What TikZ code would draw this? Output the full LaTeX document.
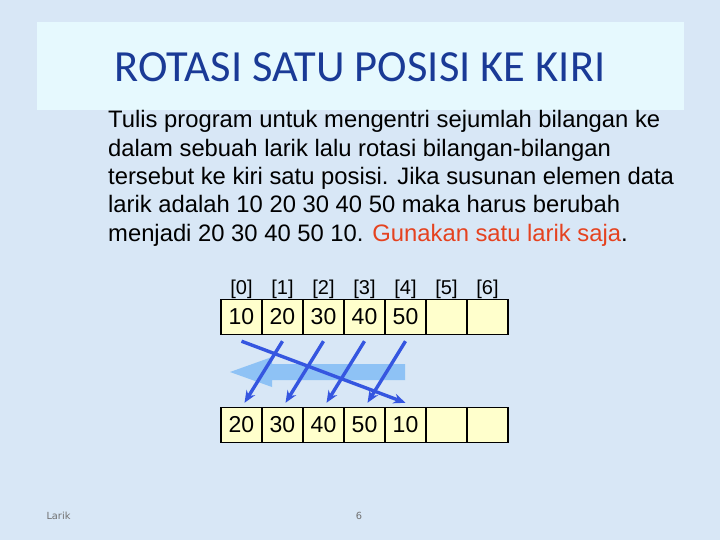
\documentclass[tikz,border=0pt]{standalone}
\usepackage{fontspec}
\setmainfont{Liberation Sans}
\newfontfamily\titlefont{Carlito}
\newfontfamily\footfont{DejaVu Sans}
\usetikzlibrary{arrows.meta}
\definecolor{bgblue}{HTML}{D8E7F6}
\definecolor{titlebox}{HTML}{E6F9FE}
\definecolor{titleblue}{HTML}{1A3A96}
\definecolor{cellyellow}{HTML}{FFFFCC}
\definecolor{linkblue}{HTML}{3556E0}
\definecolor{shiftblue}{HTML}{8EC2F5}
\definecolor{notered}{HTML}{E5421F}
\definecolor{footgray}{HTML}{707070}

\begin{document}
\begin{tikzpicture}[x=1pt,y=-1pt,
  cell/.style={draw,fill=cellyellow,line width=1.4pt,minimum width=41pt,minimum height=35pt,inner sep=0pt,font=\fontsize{23}{23}\selectfont},
  index/.style={inner sep=0pt,font=\fontsize{20}{20}\selectfont},
  link/.style={draw=linkblue,line width=3.4pt,-{Stealth[length=12pt,width=10pt]}}]

  % slide background
  \fill[bgblue] (0,0) rectangle (720,540);
  \node[fill=titlebox,minimum width=647pt,minimum height=88pt,inner sep=0pt] (titlebox) at (360.5,66){};
  \node[anchor=base,text=titleblue,font=\titlefont\fontsize{44.5}{44.5}\selectfont] (title) at (360,82){ROTASI SATU POSISI KE KIRI};

  \node[anchor=north west,inner sep=0pt,align=left,font=\fontsize{23.8}{28.3}\selectfont] (task) at (108,110.5){Tulis program untuk mengentri sejumlah bilangan ke\\
dalam sebuah larik lalu rotasi bilangan-bilangan\\
tersebut ke kiri satu posisi. Jika susunan elemen data\\
larik adalah 10 20 30 40 50 maka harus berubah\\
menjadi 20 30 40 50 10. \textcolor{notered}{Gunakan satu larik saja}.};

  % the two arrays
  \foreach \i/\a/\b in {0/10/20,1/20/30,2/30/40,3/40/50,4/50/10,5/{}/{},6/{}/{}}{
    \node[index,anchor=base] (idx\i) at ({241.5+41*\i},294){[\i]};
    \node[cell] (top\i) at ({241.5+41*\i},317){\a};
    \node[cell] (bot\i) at ({241.5+41*\i},425){\b};
  }

  % shift to the left
  \fill[shiftblue] (405,364) -- (272,364) -- (272,357) -- (230,372) -- (272,387) -- (272,380) -- (405,380) -- cycle;

  \draw[link] ([yshift=-6pt]top0.south) -- ([yshift=4pt]bot4.north);
  \draw[link] ([yshift=-6pt]top1.south) -- ([yshift=4pt,xshift=3pt]bot0.north);
  \draw[link] ([yshift=-6pt]top2.south) -- ([yshift=4pt,xshift=3pt]bot1.north);
  \draw[link] ([yshift=-6pt]top3.south) -- ([yshift=4pt,xshift=3pt]bot2.north);
  \draw[link] ([yshift=-6pt]top4.south) -- ([yshift=4pt,xshift=3pt]bot3.north);

  \node[anchor=base west,text=footgray,font=\footfont\fontsize{9.8}{9.8}\selectfont] (foot) at (43,519){Larik};
  \node[anchor=base,text=footgray,font=\footfont\fontsize{9.8}{9.8}\selectfont] (page) at (359,519){6};
\end{tikzpicture}
\end{document}
